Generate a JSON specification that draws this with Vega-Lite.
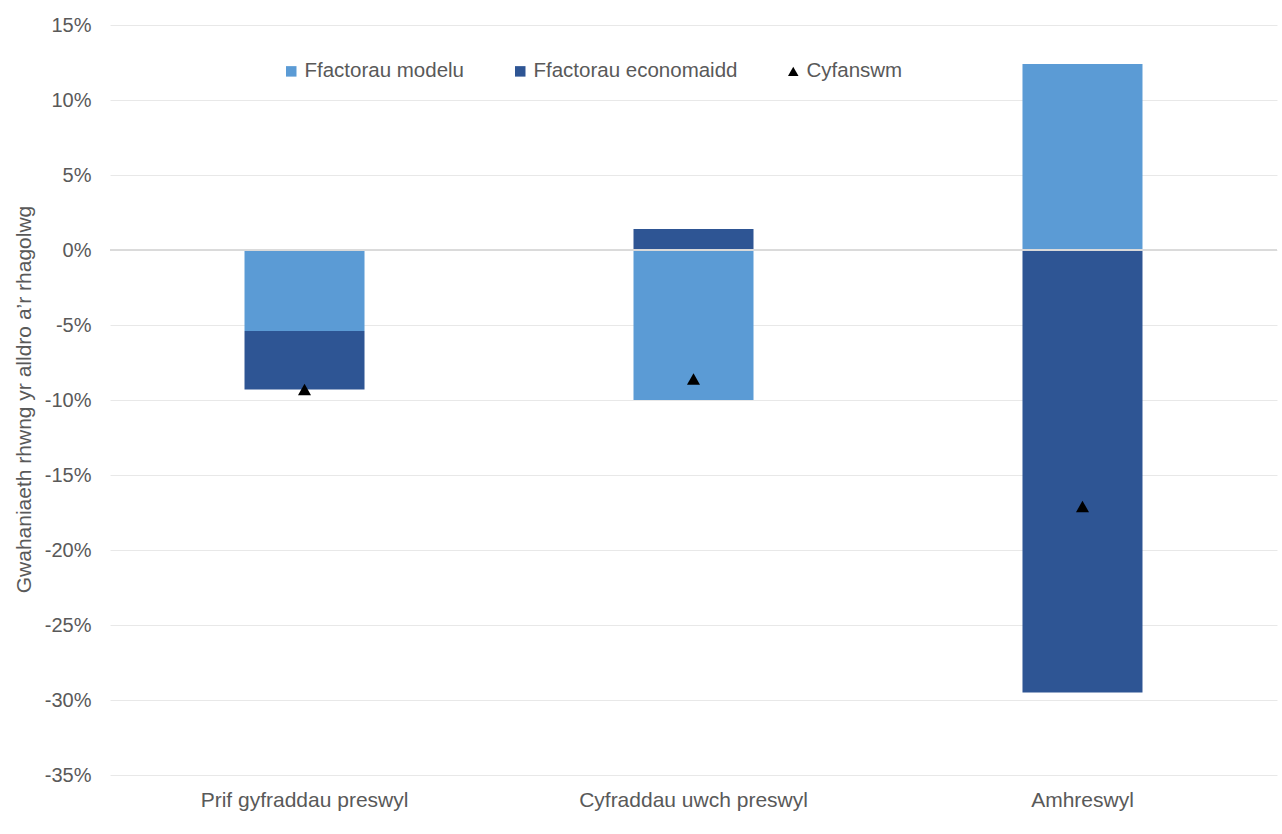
{
  "$schema": "https://vega.github.io/schema/vega-lite/v6.json",
  "autosize": {"type": "none"},
  "padding": {"left": 110, "top": 25, "right": 5, "bottom": 59},
  "width": 1167,
  "height": 750,
  "background": "white",
  "config": {
    "font": "Liberation Sans",
    "view": {"stroke": null},
    "axis": {"labelColor": "#595959", "titleColor": "#595959", "labelFont": "Liberation Sans", "titleFont": "Liberation Sans"}
  },
  "data": {
    "values": [
      {"category": "Prif gyfraddau preswyl", "series": "Ffactorau modelu", "value": -5.4, "order": 1},
      {"category": "Prif gyfraddau preswyl", "series": "Ffactorau economaidd", "value": -3.9, "order": 2},
      {"category": "Prif gyfraddau preswyl", "series": "Cyfanswm", "value": -9.3, "order": 3},
      {"category": "Cyfraddau uwch preswyl", "series": "Ffactorau modelu", "value": -10.0, "order": 1},
      {"category": "Cyfraddau uwch preswyl", "series": "Ffactorau economaidd", "value": 1.4, "order": 2},
      {"category": "Cyfraddau uwch preswyl", "series": "Cyfanswm", "value": -8.6, "order": 3},
      {"category": "Amhreswyl", "series": "Ffactorau modelu", "value": 12.4, "order": 1},
      {"category": "Amhreswyl", "series": "Ffactorau economaidd", "value": -29.5, "order": 2},
      {"category": "Amhreswyl", "series": "Cyfanswm", "value": -17.1, "order": 3}
    ]
  },
  "encoding": {
    "x": {
      "field": "category",
      "type": "nominal",
      "sort": ["Prif gyfraddau preswyl", "Cyfraddau uwch preswyl", "Amhreswyl"],
      "scale": {"paddingInner": 0.6915, "paddingOuter": 0.3458},
      "axis": {
        "title": null,
        "labelAngle": 0,
        "labelFontSize": 21,
        "labelPadding": 14,
        "labelLimit": 0,
        "domain": false,
        "ticks": false,
        "grid": false
      }
    }
  },
  "layer": [
    {
      "mark": {"type": "bar"},
      "transform": [{"filter": "datum.series !== 'Cyfanswm'"}],
      "encoding": {
        "y": {
          "field": "value",
          "type": "quantitative",
          "stack": "zero",
          "scale": {"domain": [-35, 15], "nice": false, "zero": false},
          "axis": {
            "values": [-35, -30, -25, -20, -15, -10, -5, 0, 5, 10, 15],
            "labelExpr": "datum.value + '%'",
            "labelFontSize": 20,
            "labelPadding": 19,
            "domain": false,
            "ticks": false,
            "grid": true,
            "gridColor": "#E8E8E8",
            "gridWidth": 1,
            "title": "Gwahaniaeth rhwng yr alldro a’r rhagolwg",
            "titleFontSize": 21,
            "titleFontWeight": "normal",
            "titleAngle": 270,
            "titleX": -86,
            "titleY": 374,
            "titleAlign": "center",
            "titleBaseline": "middle"
          }
        },
        "order": {"field": "order", "type": "quantitative"},
        "color": {
          "field": "series",
          "type": "nominal",
          "scale": {
            "domain": ["Ffactorau modelu", "Ffactorau economaidd", "Cyfanswm"],
            "range": ["#5B9BD5", "#2E5594", "#000000"]
          },
          "legend": {
            "title": null,
            "orient": "none",
            "direction": "horizontal",
            "legendX": 171,
            "legendY": 36,
            "columns": 3,
            "columnPadding": 45,
            "labelFontSize": 20.5,
            "labelColor": "#595959",
            "labelOffset": 3,
            "labelLimit": 0,
            "symbolSize": 110,
            "symbolStrokeWidth": 0,
            "padding": 0,
            "encode": {
              "symbols": {
                "update": {
                  "shape": {"signal": "datum.value === 'Cyfanswm' ? 'triangle-up' : 'square'"}
                }
              }
            }
          }
        }
      }
    },
    {
      "mark": {"type": "rule", "color": "#DADADA", "strokeWidth": 1},
      "encoding": {"y": {"datum": 0}, "x": null}
    },
    {
      "mark": {"type": "point", "shape": "triangle-up", "filled": true, "size": 170, "opacity": 1},
      "transform": [{"filter": "datum.series === 'Cyfanswm'"}],
      "encoding": {
        "y": {"field": "value", "type": "quantitative"},
        "color": {"field": "series", "type": "nominal"}
      }
    }
  ]
}
